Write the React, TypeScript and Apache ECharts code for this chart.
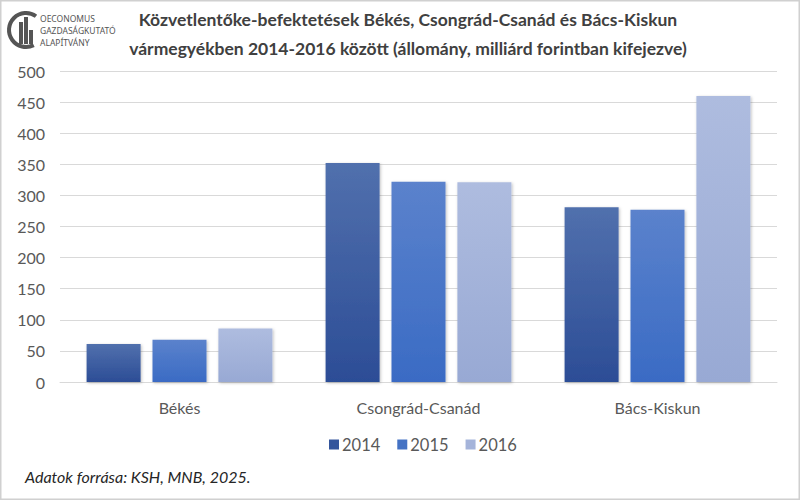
import React, { useEffect, useRef } from "react";
import * as echarts from "echarts";

const categories = ["Békés", "Csongrád-Csanád", "Bács-Kiskun"];
const years = ["2014", "2015", "2016"];
const values2014 = [61, 352, 281];
const values2015 = [68, 322, 277];
const values2016 = [86, 321, 460];
const titleText =
  "Közvetlentőke-befektetések Békés, Csongrád-Csanád és Bács-Kiskun\nvármegyékben 2014-2016 között (állomány, milliárd forintban kifejezve)";
const sourceText = "Adatok forrása: KSH, MNB, 2025.";
const logoLines = ["OECONOMUS", "GAZDASÁGKUTATÓ", "ALAPÍTVÁNY"];

const FONT = "Lato, 'Noto Sans', sans-serif";

function grad(top: string, bottom: string) {
  return new echarts.graphic.LinearGradient(0, 0, 0, 1, [
    { offset: 0, color: top },
    { offset: 1, color: bottom },
  ]);
}

export default function App() {
  const ref = useRef<HTMLDivElement>(null);
  useEffect(() => {
    document.body.style.margin = "0";
    const chart = echarts.init(ref.current!, null, { renderer: "svg" });
    const colors = [
      grad("#5170ad", "#2c4d96"),
      grad("#5b82cc", "#3a6bc4"),
      grad("#aebcdf", "#98a9d4"),
    ];
    const legendColors = ["#34559c", "#4472c4", "#a5b4da"];
    const seriesData = [values2014, values2015, values2016];
    chart.setOption({
      animation: false,
      backgroundColor: "#ffffff",
      title: {
        text: titleText,
        left: 403,
        textAlign: "center",
        top: 0,
        textStyle: {
          fontFamily: FONT,
          fontSize: 17.5,
          fontWeight: "bold",
          color: "#404040",
          lineHeight: 29,
        },
      },
      legend: {
        data: years.map((y, i) => ({ name: y, itemStyle: { color: legendColors[i] } })),
        left: 324,
        top: 431,
        itemWidth: 10,
        itemHeight: 10,
        itemGap: 17,
        icon: "rect",
        textStyle: { fontFamily: FONT, fontSize: 16.5, color: "#595959", padding: [0, 0, 0, -2] },
      },
      grid: { left: 60, right: 23, top: 71, bottom: 118, containLabel: false },
      xAxis: {
        type: "category",
        data: categories,
        axisLine: { lineStyle: { color: "#d9d9d9", width: 1 } },
        axisTick: { show: false },
        axisLabel: { fontFamily: FONT, fontSize: 16, color: "#595959", margin: 17 },
      },
      yAxis: {
        type: "value",
        min: 0,
        max: 500,
        interval: 50,
        axisLine: { show: false },
        axisTick: { show: false },
        splitLine: { lineStyle: { color: "#d9d9d9", width: 1 } },
        axisLabel: { fontFamily: FONT, fontSize: 16, color: "#595959", margin: 15 },
      },
      series: years.map((y, i) => ({
        name: y,
        type: "bar",
        data: seriesData[i],
        barWidth: "22.6%",
        barGap: "22%",
        itemStyle: {
          color: colors[i],
          shadowColor: "rgba(0,0,0,0.25)",
          shadowBlur: 3,
          shadowOffsetX: 1,
          shadowOffsetY: 1,
        },
      })),
      graphic: [
        {
          type: "rect",
          shape: { x: 0.5, y: 0.5, width: 799, height: 499 },
          style: { fill: "none", stroke: "#d0d0d0", lineWidth: 2 },
          silent: true,
        },
        {
          type: "arc",
          shape: { cx: 26, cy: 30, r: 17, startAngle: -Math.PI * 0.3, endAngle: Math.PI * 0.35, clockwise: false },
          style: { stroke: "#555555", lineWidth: 4, fill: "none" },
        },
        { type: "rect", shape: { x: 19, y: 22, width: 4, height: 22 }, style: { fill: "#555555" } },
        { type: "rect", shape: { x: 24, y: 17, width: 4, height: 27 }, style: { fill: "#555555" } },
        { type: "rect", shape: { x: 29, y: 30, width: 4, height: 14 }, style: { fill: "#555555" } },
        ...logoLines.map((t, i) => ({
          type: "text",
          left: 40,
          top: 14 + i * 12,
          style: { text: t, fontFamily: "'Liberation Sans Narrow', 'Noto Sans', sans-serif", fontSize: 8.5, fill: "#555555" },
        })),
        {
          type: "text",
          left: 25,
          top: 468,
          style: {
            text: sourceText,
            fontFamily: FONT,
            fontSize: 16,
            fontStyle: "italic",
            fill: "#262626",
          },
        },
      ],
    });
    return () => chart.dispose();
  }, []);
  return <div ref={ref} style={{ width: 800, height: 500 }} />;
}
